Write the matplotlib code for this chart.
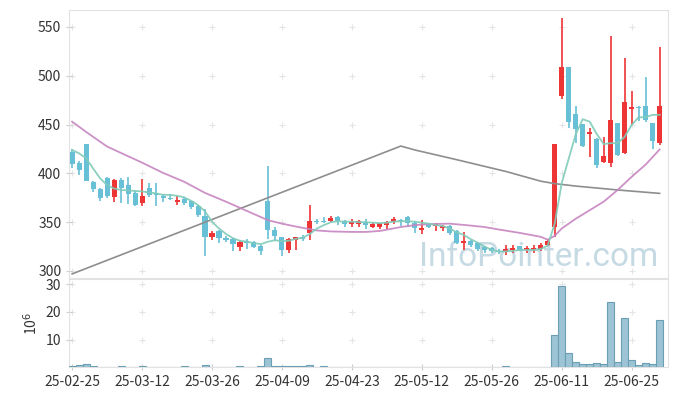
import matplotlib
matplotlib.use("Agg")
import matplotlib.pyplot as plt
from matplotlib import font_manager

plt.rcParams['font.family'] = ['Noto Sans CJK KR', 'DejaVu Sans']

# 일봉 데이터 (거래일 인덱스 기준)
opens = [421.5, 410.5, 430, 391, 384, 395, 375.5, 393, 388, 380,
         370, 385, 379.5, 377, 375, 371, 374, 371.5, 366.5, 356,
         335, 341, 334, 333, 324.5, 330.5, 330, 325.5, 372, 342,
         334.5, 321.5, 332, 334.5, 339, 351, 351, 351, 355.5, 351,
         348.5, 348, 350.5, 345.5, 345.5, 347.5, 350, 352.5, 355.5, 349,
         342, 349, 346, 344.5, 346, 340.5, 328.5, 331, 328.5, 325,
         323.5, 320, 319, 321, 325.5, 321, 321.5, 322.5, 326.5, 345.5,
         479.5, 509, 460.5, 450.5, 440.5, 435, 411.5, 411, 451.5, 421,
         466, 468.5, 469, 451.5, 431.5]
highs = [425, 412.5, 430.5, 392, 385, 396, 394, 395.5, 396, 382,
         394, 390, 390, 379, 378.5, 377, 376, 372, 368, 363,
         340.5, 342, 336, 334, 331, 333, 331, 327, 407.5, 345,
         335, 334, 335, 336.5, 367.5, 353, 355, 356, 356, 352,
         353, 352, 353, 349, 349.5, 351.5, 355.5, 353, 356, 351.5,
         352, 349.5, 349, 347.5, 347, 342, 339.5, 331.5, 330, 325.5,
         324.5, 322.5, 326.5, 326.5, 325.5, 325.5, 326.5, 328.5, 332.5, 430,
         559, 509.5, 469.5, 451, 446, 436, 437, 541, 452, 518,
         484.5, 469, 499, 452, 529]
lows = [406, 398.5, 392, 381, 372, 375, 371, 369.5, 369, 367,
        367, 376, 367, 371, 373, 368, 368, 363, 355, 315,
        332, 329, 330, 320, 320, 323, 324, 316, 333, 330.5,
        315, 318, 321, 330.5, 332, 348, 349, 350, 347.5, 345,
        345.5, 345, 343, 344, 343, 343, 348, 346, 345.5, 338.5,
        338, 344, 340.5, 340.5, 336.5, 328, 321.5, 324.5, 320, 318,
        318, 317.5, 316.5, 318, 320, 318, 318, 320, 326, 335,
        476, 447, 431, 427, 417, 406, 411, 407, 418, 420,
        449.5, 453.5, 453, 424.5, 429]
closes = [409.5, 403, 392.5, 383.5, 375, 377, 393, 385.5, 379, 368,
          377, 377.5, 378, 374.5, 373.5, 373, 369.5, 366, 357.5, 335,
          339, 333.5, 332, 327.5, 330, 329, 325, 320, 342, 336,
          321, 333, 335, 332.5, 351, 350, 350, 354, 351, 348,
          350.5, 351, 347, 348, 349, 350, 353.5, 351, 349, 344.5,
          344.5, 345.5, 348, 346.5, 339, 329, 331, 326.5, 323, 321.5,
          320, 319, 322, 324, 321, 323.5, 324, 326.5, 331, 430,
          509, 453, 445, 428, 442, 408.5, 418, 454.5, 419, 473,
          468, 467.5, 455, 433.5, 469]

# 거래량 (백만 주)
volumes = [0.35, 0.7, 1.1, 0.35, 0.1, 0.1, 0.1, 0.3, 0.1, 0.1,
           0.3, 0.1, 0.1, 0.1, 0.1, 0.1, 0.3, 0.1, 0.1, 0.7,
           0.1, 0.1, 0.1, 0.1, 0.3, 0.1, 0.1, 0.3, 3.2, 0.3,
           0.3, 0.3, 0.3, 0.3, 0.7, 0.1, 0.3, 0.1, 0.1, 0.1,
           0.1, 0.1, 0.1, 0.1, 0.1, 0.1, 0.1, 0.1, 0.1, 0.1,
           0.1, 0.1, 0.1, 0.1, 0.1, 0.1, 0.1, 0.1, 0.1, 0.1,
           0.1, 0.1, 0.3, 0.1, 0.1, 0.1, 0.1, 0.1, 0.1, 11.5,
           29.3, 5.2, 1.8, 1.2, 1.2, 1.4, 1.2, 23.5, 1.8, 17.8,
           2.7, 0.8, 1.4, 1.2, 17]

# 5일 이동평균
ma5 = [424, 420.5, 415.5, 405, 395, 388, 384.5, 383, 382.5, 382,
       381.5, 380.5, 379.5, 378, 378, 377, 375.5, 372, 367.5, 361,
       350.5, 343.5, 338, 333.5, 331, 330, 328.5, 327.5, 330, 331.5,
       330.5, 331, 333, 334, 338, 343.5, 347, 350, 351, 350.5,
       350.5, 350, 350, 349.5, 349, 349.5, 350.5, 351, 351, 350.5,
       349.5, 348.5, 347, 346, 343.5, 339.5, 337, 332.5, 329, 325,
       321.5, 320, 320, 320.5, 321.5, 321.5, 321.5, 322.5, 326, 348.5,
       390, 415, 440, 455.5, 453, 440.5, 430, 431, 431, 437.5,
       449.5, 457.5, 457.5, 460, 460]

# 20일 이동평균 (읽은 지점)
ma20_x = [0, 2, 5, 10, 13, 16, 19, 22, 25, 28, 30, 32, 35, 37, 40, 42, 44, 47,
          49, 51, 54, 57, 59, 61, 64, 67, 68, 69, 70, 72, 76, 78, 80, 82, 84]
ma20_y = [453, 442.5, 427.5, 411, 400.5, 391.5, 380, 371, 361.5, 352, 348.5,
          345.5, 341.5, 340.5, 340, 340, 341, 345, 347, 348, 348.5, 346.5, 345,
          342.5, 339, 335, 332, 336, 343.5, 353.5, 371, 383, 396.5, 409, 424.5]

# 장기 이동평균 (읽은 지점)
ma_long_x = [0, 47, 49, 55, 62, 67, 69, 72, 78, 84]
ma_long_y = [297, 428, 424, 414, 402, 392, 389.5, 387, 383, 379.5]

tick_pos = [0, 10, 20, 30, 40, 50, 60, 70, 80]
tick_labels = ['25-02-25', '25-03-12', '25-03-26', '25-04-09', '25-04-23',
               '25-05-12', '25-05-26', '25-06-11', '25-06-25']

RED = '#ee3535'
BLUE = '#68c0d7'
GRID = '#e4e4e4'
TXT = '#333333'

names = {f.name for f in font_manager.fontManager.ttflist}
wm_font = 'Liberation Sans Narrow' if 'Liberation Sans Narrow' in names else 'Roboto'

fig = plt.figure(figsize=(6.73, 3.96), dpi=100)
ax = fig.add_axes([0.1025, 0.298, 0.8901, 0.6767])
axv = fig.add_axes([0.1025, 0.0732, 0.8901, 0.2223], sharex=ax)

idx = list(range(len(opens)))
colors = [RED if c >= o else BLUE for o, c in zip(opens, closes)]
body_b = [min(o, c) for o, c in zip(opens, closes)]
body_h = [max(abs(c - o), 0.8) for o, c in zip(opens, closes)]

ax.vlines(idx, lows, highs, colors=colors, lw=1.2, zorder=3)
ax.bar(idx, body_h, bottom=body_b, width=0.72, color=colors, zorder=4)

ax.plot(ma_long_x, ma_long_y, color='#8e8e8e', lw=1.2, zorder=5)
ax.plot(ma20_x, ma20_y, color='#c785c0', lw=1.3, zorder=5, alpha=0.9)
ax.plot(idx, ma5, color='#80cbb9', lw=1.3, zorder=6, alpha=0.9)

ax.text(0.984, 0.02, 'InfoPointer.com', transform=ax.transAxes, ha='right',
        va='bottom', fontsize=24, color='#c6dae4', zorder=1, family=wm_font)

ax.set_xlim(-0.45, 85.2)
ax.set_ylim(292.8, 567.4)
ax.set_yticks([300, 350, 400, 450, 500, 550])

axv.bar(idx, volumes, width=1.0, color='#9dc4d4', edgecolor='#6a9fb6',
        lw=0.8, zorder=3)
axv.set_ylim(0, 32)
axv.set_yticks([10, 20, 30])
axv.set_ylabel('10$^6$', color=TXT, fontsize=10)
axv.set_xticks(tick_pos)
axv.set_xticklabels(tick_labels)

# 격자 대신 + 표시
for a, ys in ((ax, [300, 350, 400, 450, 500, 550]), (axv, [10, 20, 30])):
    gx = [x for x in tick_pos for y in ys]
    gy = [y for x in tick_pos for y in ys]
    a.scatter(gx, gy, marker='+', s=16, color=GRID, lw=0.8, zorder=0)
    for s in a.spines.values():
        s.set_color('#e2e2e2')
    a.tick_params(axis='both', colors='#cccccc', labelcolor=TXT, labelsize=10,
                  length=4, direction='inout', width=0.8)

plt.setp(ax.get_xticklabels(), visible=False)
ax.tick_params(axis='x', length=0)

fig.savefig('out.png', dpi=100)
